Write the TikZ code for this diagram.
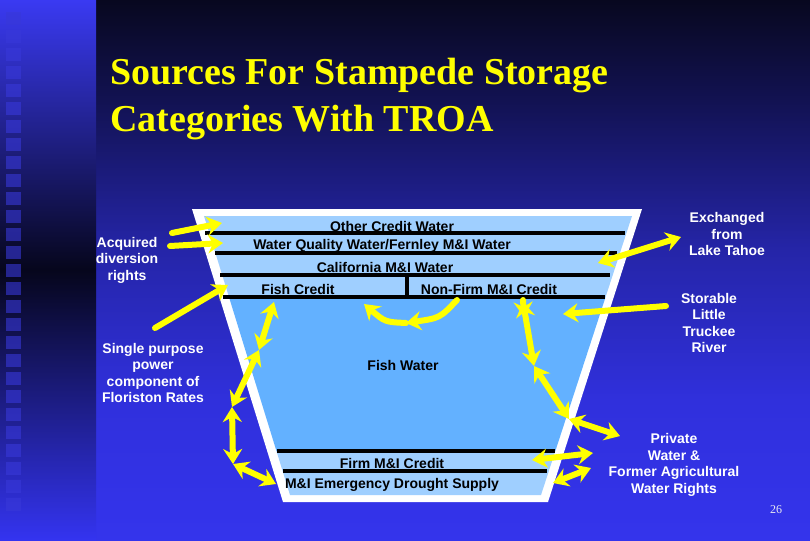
\documentclass[tikz,border=0pt]{standalone}
\usepackage{fontspec}
\setmainfont{Liberation Sans}
\newfontfamily\titlefont{Liberation Serif}
\usetikzlibrary{arrows.meta}
\definecolor{yel}{HTML}{FFFF00}
\definecolor{bgZ}{HTML}{08081F}
\definecolor{bgA}{HTML}{121252}
\definecolor{bgB}{HTML}{2525A8}
\definecolor{bgC}{HTML}{3030DC}
\definecolor{bgD}{HTML}{3434EC}
\definecolor{stripT}{HTML}{3A3AF2}
\definecolor{stripM}{HTML}{06061C}
\definecolor{stripB}{HTML}{3434F0}
\definecolor{sq}{rgb}{0.22,0.22,0.85}
\definecolor{band}{HTML}{9FCFFF}
\definecolor{water}{HTML}{63B1FF}
\definecolor{numcol}{HTML}{E8E8F0}
\pgfdeclareverticalshading{mainbg}{100bp}{color(0bp)=(bgD); color(25bp)=(bgD); color(37.96bp)=(bgC); color(51.85bp)=(bgB); color(65.7bp)=(bgA); color(75bp)=(bgZ); color(100bp)=(bgZ)}
\begin{document}
\begin{tikzpicture}[x=1pt,y=-1pt,
  lab/.style={text=white, font=\bfseries\fontsize{14}{16.5}\selectfont, align=center, inner sep=0pt},
  inn/.style={text=black, font=\bfseries\fontsize{14}{16.5}\selectfont, inner sep=0pt},
  ttl/.style={text=yel, font=\titlefont\bfseries\fontsize{38}{47}\selectfont, inner sep=0pt, anchor=base west},
  bar/.style={draw=black, line width=3.5pt},
  ya/.style={draw=yel, line width=6pt, line cap=round, -{Stealth[length=15pt,width=19pt,inset=5pt]}},
  yb/.style={draw=yel, line width=6pt, line cap=round, {Stealth[length=15pt,width=19pt,inset=5pt]}-{Stealth[length=15pt,width=19pt,inset=5pt]}}
]
\useasboundingbox (0,0) rectangle (810,540);
% background
\shade[shading=mainbg] (96,0) rectangle (810,540);
\shade[top color=stripT, bottom color=stripB, middle color=stripM] (0,0) rectangle (96,540);
\foreach \k in {0,...,27} {
  \fill[sq, opacity=0.6] (6,12+18*\k) rectangle (21,25+18*\k);
}
% title
\node[ttl] (t1) at (110,85) {Sources For Stampede Storage};
\node[ttl] (t2) at (110,132) {Categories With TROA};
% reservoir
\fill[white] (192,209) -- (642,209) -- (548,502) -- (283,502) -- cycle;
\begin{scope}
  \clip (204,216) -- (632,216) -- (541,495) -- (290,495) -- cycle;
  \fill[band] (150,200) rectangle (700,298);
  \fill[water] (150,298) rectangle (700,451);
  \fill[band] (150,451) rectangle (700,520);
\end{scope}
\draw[bar] (205,233) -- (625,233);
\draw[bar] (215,253) -- (617,253);
\draw[bar] (220,275) -- (610,275);
\draw[bar] (223,297) -- (605,297);
\draw[bar] (407,275) -- (407,297);
\draw[bar] (277,451) -- (555,451);
\draw[bar] (283,471) -- (547,471);
% inside labels
\node[inn] (ocw) at (392,226.5) {Other Credit Water};
\node[inn] (wqw) at (382,245.5) {Water Quality Water/Fernley M\&I Water};
\node[inn] (cal) at (385,267.5) {California M\&I Water};
\node[inn] (fc) at (298,289) {Fish Credit};
\node[inn] (nfc) at (489,289) {Non-Firm M\&I Credit};
\node[inn] (fw) at (403,365) {Fish Water};
\node[inn] (firm) at (392,463) {Firm M\&I Credit};
\node[inn] (emg) at (392,485) {M\&I Emergency Drought Supply};
% outside labels
\node[lab] (acq) at (127,260) {Acquired\\diversion\\rights};
\node[lab] (spp) at (153,373) {Single purpose\\power\\component of\\Floriston Rates};
\node[lab] (exl) at (727,234) {Exchanged\\from\\Lake Tahoe};
\node[lab] (sto) at (709,323) {Storable\\Little\\Truckee\\River};
\node[lab] (pri) at (674,465) {Private\\Water \&\\Former Agricultural\\Water Rights};
\node[text=numcol, font=\titlefont\fontsize{12}{14}\selectfont, inner sep=0pt] (pg) at (776,510) {26};
% arrow end points
\coordinate (a1s) at (172,233); \coordinate (a1e) at (222,223);
\coordinate (a2s) at (170,246); \coordinate (a2e) at (223,243);
\coordinate (a3s) at (155,328); \coordinate (a3e) at (228,285);
\coordinate (L1) at (274,302); \coordinate (L2) at (259,350);
\coordinate (L3) at (232,407); \coordinate (L4) at (233,464);
\coordinate (L5) at (276,484);
\coordinate (R0) at (523,300); \coordinate (R0b) at (524,317);
\coordinate (R1) at (523,302); \coordinate (R2) at (534,366);
\coordinate (R3) at (569,419); \coordinate (R4) at (620,436);
\coordinate (R5a) at (532,460); \coordinate (R5b) at (593,453);
\coordinate (R6a) at (553,483); \coordinate (R6b) at (591,468);
\coordinate (ex1) at (598,263); \coordinate (ex2) at (681,237);
\coordinate (st1) at (666,306); \coordinate (st2) at (563,314);
\coordinate (cT) at (457,300); \coordinate (cM) at (406,323); \coordinate (cH) at (364,304);
% arrows
\draw[ya] (a1s) -- (a1e);
\draw[ya] (a2s) -- (a2e);
\draw[ya] (a3s) -- (a3e);
\draw[yb] (L1) -- (L2);
\draw[yb] (L2) -- (L3);
\draw[yb] (L3) -- (L4);
\draw[yb] (L4) -- (L5);
\draw[yb] (R1) -- (R2);
\draw[ya] (R0) -- (R0b);
\draw[yb] (R2) -- (R3);
\draw[yb] (R3) -- (R4);
\draw[yb] (R5a) -- (R5b);
\draw[yb] (R6a) -- (R6b);
\draw[yb] (ex1) -- (ex2);
\draw[ya] (st1) -- (st2);
\draw[ya] (cT) .. controls (440,318) .. (cM);
\draw[ya] (cM) .. controls (385,322) .. (cH);
\end{tikzpicture}
\end{document}
